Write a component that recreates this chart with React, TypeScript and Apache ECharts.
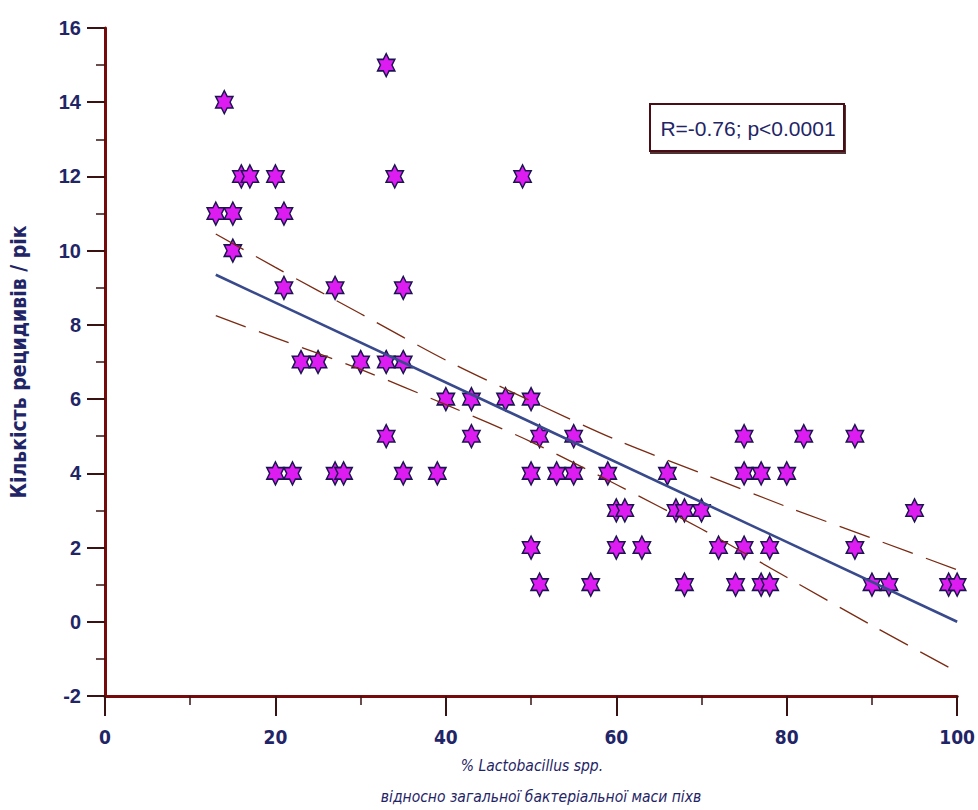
import React, { useEffect, useRef } from "react";
import * as echarts from "echarts";

// Share of Lactobacillus spp. (%) for each patient
const lactoPct = [
  33,
  14,
  16, 17, 20, 34, 49,
  13, 15, 21,
  15,
  21, 27, 35,
  23, 25, 30, 33, 35,
  40, 43, 47, 50,
  33, 43, 51, 55, 75, 82, 88,
  20, 22, 27, 28, 35, 39, 50, 53, 55, 59, 66, 75, 77, 80,
  60, 61, 67, 68, 70, 95,
  50, 60, 63, 72, 75, 78, 88,
  51, 57, 68, 74, 77, 78, 90, 92, 99, 100,
];

// Number of relapses per year for each patient
const relapses = [
  15,
  14,
  12, 12, 12, 12, 12,
  11, 11, 11,
  10,
  9, 9, 9,
  7, 7, 7, 7, 7,
  6, 6, 6, 6,
  5, 5, 5, 5, 5, 5, 5,
  4, 4, 4, 4, 4, 4, 4, 4, 4, 4, 4, 4, 4, 4,
  3, 3, 3, 3, 3, 3,
  2, 2, 2, 2, 2, 2, 2,
  1, 1, 1, 1, 1, 1, 1, 1, 1, 1,
];

// Regression line
const fitX = [13, 100];
const fitY = [9.35, 0.0];

// 95% confidence band of the regression
const bandX = [13, 20, 30, 40, 50, 60, 70, 80, 90, 100];
const bandUpper = [10.45, 9.55, 8.3, 7.05, 5.95, 4.9, 4.0, 3.1, 2.25, 1.4];
const bandLower = [8.25, 7.65, 6.8, 5.85, 4.85, 3.7, 2.5, 1.2, -0.1, -1.35];

const statText = "R=-0.76; p<0.0001";
const yName = "Кількість рецидивів / рік";
const xNameLine1 = "% Lactobacillus spp.";
const xNameLine2 = "відносно загальної бактеріальної маси піхв";

const NAVY = "#1f2566";
const AXIS_RED = "#760a0a";
const TICK_DARK = "#3a1212";
const NARROW = "'Liberation Sans Narrow', 'DejaVu Sans Condensed', Arial, sans-serif";
const SANS = "'Liberation Sans', Arial, sans-serif";

const HEXAGRAM =
  "path://M100,0 L128.9,50 L186.6,50 L157.7,100 L186.6,150 L128.9,150 L100,200 L71.1,150 L13.4,150 L42.3,100 L13.4,50 L71.1,50 Z";

export default function App() {
  const ref = useRef<HTMLDivElement>(null);

  useEffect(() => {
    if (!ref.current) return;
    const chart = echarts.init(ref.current, null, { renderer: "svg" });

    const points = lactoPct.map((x, i) => [x, relapses[i]]);
    const fit = fitX.map((x, i) => [x, fitY[i]]);
    const upper = bandX.map((x, i) => [x, bandUpper[i]]);
    const lower = bandX.map((x, i) => [x, bandLower[i]]);

    const bandStyle = {
      color: "#7a2a12",
      width: 1.3,
      type: [32, 14] as number[],
    };

    chart.setOption({
      animation: false,
      backgroundColor: "#ffffff",
      grid: { left: 102, right: 17, top: 28, bottom: 114 },
      xAxis: {
        type: "value",
        min: 0,
        max: 100,
        interval: 20,
        axisLine: { onZero: false, lineStyle: { color: AXIS_RED, width: 3 } },
        axisTick: { show: true, inside: false, length: 20, lineStyle: { color: TICK_DARK, width: 2 } },
        minorTick: { show: true, splitNumber: 2, length: 9, lineStyle: { color: TICK_DARK, width: 1.5 } },
        splitLine: { show: false },
        axisLabel: {
          margin: 31,
          color: NAVY,
          fontSize: 19,
          fontWeight: "bold",
          fontFamily: NARROW,
        },
      },
      yAxis: {
        type: "value",
        min: -2,
        max: 16,
        interval: 2,
        name: yName,
        nameLocation: "middle",
        nameGap: 76,
        nameTextStyle: { color: NAVY, fontSize: 21, fontWeight: "bold", fontFamily: NARROW },
        axisLine: { onZero: false, lineStyle: { color: AXIS_RED, width: 3 } },
        axisTick: { show: true, inside: false, length: 18, lineStyle: { color: TICK_DARK, width: 2 } },
        minorTick: { show: true, splitNumber: 2, length: 9, lineStyle: { color: TICK_DARK, width: 1.5 } },
        splitLine: { show: false },
        axisLabel: {
          margin: 24,
          color: NAVY,
          fontSize: 20,
          fontWeight: "bold",
          fontFamily: SANS,
        },
      },
      graphic: [
        {
          type: "rect",
          shape: { x: 650, y: 104, width: 194, height: 47 },
          style: {
            fill: "#ffffff",
            stroke: "#4a0e12",
            lineWidth: 2,
            shadowColor: "rgba(40,0,0,0.8)",
            shadowOffsetX: 1,
            shadowOffsetY: 2,
            shadowBlur: 0,
          },
          z: 10,
        },
        {
          type: "text",
          x: 748,
          y: 128,
          style: {
            text: statText,
            fill: NAVY,
            fontSize: 21,
            fontFamily: SANS,
            align: "center",
            verticalAlign: "middle",
          },
          z: 11,
        },
        {
          type: "text",
          x: 532,
          y: 766,
          style: {
            text: xNameLine1,
            fill: NAVY,
            fontSize: 15.5,
            fontStyle: "italic",
            fontFamily: NARROW,
            align: "center",
            verticalAlign: "middle",
          },
        },
        {
          type: "text",
          x: 541,
          y: 797,
          style: {
            text: xNameLine2,
            fill: NAVY,
            fontSize: 15.5,
            fontStyle: "italic",
            fontFamily: NARROW,
            align: "center",
            verticalAlign: "middle",
          },
        },
      ],
      series: [
        {
          type: "scatter",
          data: points,
          symbol: HEXAGRAM,
          symbolSize: [20, 23],
          symbolKeepAspect: true,
          itemStyle: { color: "#dc1cf0", borderColor: "#1a1450", borderWidth: 1.5, opacity: 1 },
          z: 2,
        },
        {
          type: "line",
          data: upper,
          showSymbol: false,
          smooth: 0.3,
          lineStyle: bandStyle,
          z: 3,
        },
        {
          type: "line",
          data: lower,
          showSymbol: false,
          smooth: 0.3,
          lineStyle: bandStyle,
          z: 3,
        },
        {
          type: "line",
          data: fit,
          showSymbol: false,
          lineStyle: { color: "#394a8c", width: 2.6 },
          z: 4,
        },
      ],
    });

    return () => chart.dispose();
  }, []);

  return (
    <div
      ref={ref}
      style={{ position: "absolute", left: 0, top: 0, width: 978, height: 810, background: "#fff" }}
    />
  );
}
